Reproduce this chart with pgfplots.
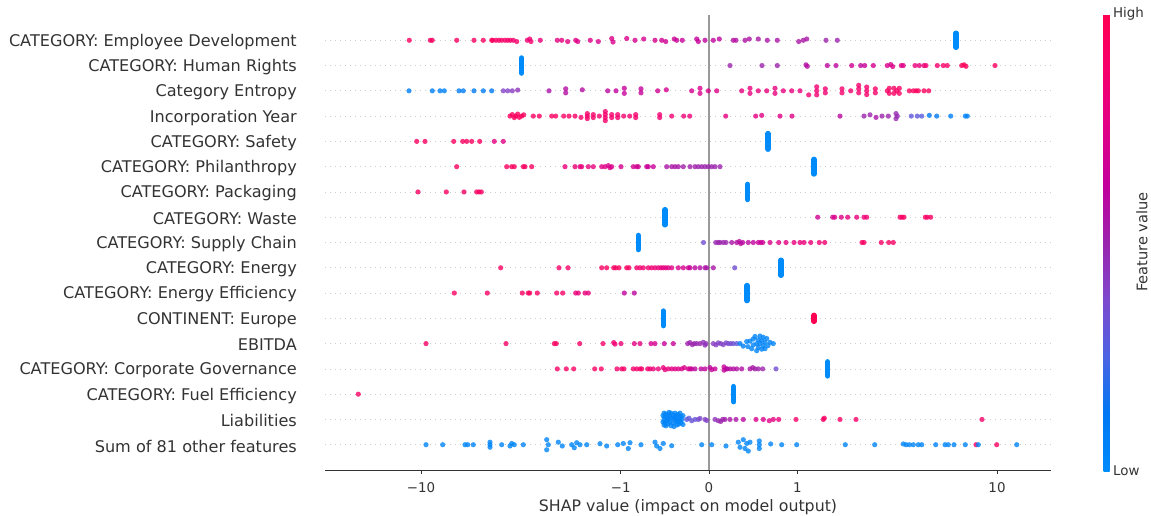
\documentclass[border=0pt]{standalone}
\usepackage{pgfplots}
\pgfplotsset{compat=1.18}
\usepackage{fontspec}
\setmainfont{DejaVu Sans}
\definecolor{txt}{HTML}{333333}
\definecolor{zeroline}{HTML}{999999}
\definecolor{gridc}{HTML}{CCCCCC}
\definecolor{shapblue}{RGB}{0,139,251}
\definecolor{shapred}{RGB}{255,0,82}
\pgfplotsset{
  shapdots/.style={scatter, only marks, mark=*, mark size=2.6pt, point meta=explicit,
    scatter/use mapped color={draw=mapped color, fill=mapped color, draw opacity=0, fill opacity=0.8}},
  capsule/.style={line width=5.4pt, line cap=round, #1, forget plot},
}
\begin{document}
\begin{tikzpicture}
\useasboundingbox (0,0) rectangle (1151pt,515pt);
\begin{axis}[
  at={(325pt,45pt)}, anchor=south west,
  scale only axis, width=726pt, height=455pt,
  xmin=-384, xmax=342, ymin=-1, ymax=17,
  axis line style={draw=none},
  xtick={-288,-88.3,0,88.3,288}, xticklabels={−10,−1,0,1,10},
  xtick pos=left, tick align=outside, major tick length=4pt,
  xtick style={draw=txt, line width=0.8pt},
  ytick={0,...,16},
  yticklabels={Sum of 81 other features, Liabilities, CATEGORY: Fuel Efficiency, CATEGORY: Corporate Governance, EBITDA, CONTINENT: Europe, CATEGORY: Energy Efficiency, CATEGORY: Energy, CATEGORY: Supply Chain, CATEGORY: Waste, CATEGORY: Packaging, CATEGORY: Philanthropy, CATEGORY: Safety, Incorporation Year, Category Entropy, CATEGORY: Human Rights, CATEGORY: Employee Development},
  ytick style={draw=none},
  ymajorgrids, grid style={gridc, dash pattern=on 1pt off 4pt, line width=0.7pt},
  xticklabel style={font=\fontsize{13.4}{15}\selectfont, text=txt, yshift=-5pt},
  yticklabel style={font=\fontsize{16.1}{18}\selectfont, text=txt, anchor=east, inner sep=0pt, xshift=-24pt, yshift=-1.5pt},
  xlabel={SHAP value (impact on model output)},
  xlabel style={font=\fontsize{15.8}{18}\selectfont, text=txt, at={(axis description cs:0.5,0)}, anchor=center, yshift=-37pt},
  colormap={shap}{rgb255=(0,139,251) rgb255=(0,120,243) rgb255=(75,99,227) rgb255=(125,73,205) rgb255=(155,36,173) rgb255=(194,0,156) rgb255=(224,0,134) rgb255=(245,0,109) rgb255=(255,0,82)},
  point meta min=0, point meta max=1,
  colorbar,
  colorbar style={
    at={(parent axis.north east)}, anchor=north west, xshift=44pt, yshift=1pt,
    scale only axis, width=6pt, height=457pt,
    axis line style={draw=none},
    ytick={0,1}, yticklabels={Low,High},
    ytick style={draw=none},
    yticklabel style={font=\fontsize{13.4}{15}\selectfont, text=txt},
  },
  clip=false,
]
\addplot[zeroline, line width=1.3pt, forget plot] coordinates {(0,-1) (0,17)};

% CATEGORY: Employee Development
\addplot[shapdots] table[x=x, y expr=16+\thisrow{dy}, meta=c] {
x dy c
-299.7 0 0.93
-278.7 0 0.93
-276.7 0 0.93
-252.3 0 0.93
-235 0 0.93
-225.7 0 0.93
-217.3 0 0.95
-216.3 0 0.93
-213 0 0.92
-210 0 0.92
-207.3 0 0.9
-204 0 0.9
-201.3 0 0.9
-198.7 0 0.9
-195.7 0 0.88
-192.3 -0.05 0.88
-181.7 0 0.85
-179.3 0.05 0.85
-178 -0.05 0.85
-168.7 0 0.82
-151.7 0 0.78
-147.3 0 0.78
-141.3 -0.05 0.76
-133.3 0 0.75
-131.3 -0.05 0.75
-118.7 0 0.75
-110.7 -0.05 0.72
-97.3 0.07 0.72
-96 -0.07 0.72
-82.3 0.07 0.72
-74 0 0.7
-65.3 0.05 0.7
-54 0 0.7
-47.3 0 0.68
-43.3 -0.05 0.68
-34.7 0.05 0.66
-32.3 0 0.66
-26.7 0 0.65
-12.3 0.05 0.65
-10.7 -0.05 0.65
-4 0 0.62
4.3 0 0.62
10.3 0.05 0.62
24.3 0 0.58
27 0 0.58
36 0 0.56
40.3 0.05 0.56
49.3 0.05 0.55
58.3 0 0.55
68.3 0 0.55
89.7 -0.05 0.55
94.3 0 0.55
97.7 0.05 0.55
117 0 0.5
128.3 0 0.5
};
% CATEGORY: Human Rights
\addplot[shapdots] table[x=x, y expr=15+\thisrow{dy}, meta=c] {
x dy c
21 0 0.5
53 0 0.5
68.3 0 0.5
97 0.03 0.58
98.3 -0.03 0.58
118.3 0 0.6
127 0 0.6
142.7 0 0.68
151.7 0 0.62
155.7 0 0.65
164.3 0 0.7
178.3 0 0.72
181.7 0.04 0.72
183.7 -0.04 0.74
192.3 0 0.75
194.3 0 0.75
206 0 0.8
210.3 0 0.8
215 0 0.82
217 0 0.85
228.3 0 0.88
234.3 0 0.9
238.3 0 0.9
252.7 0 0.95
255 0.03 0.97
257 -0.03 0.97
286 0 0.93
};
% Category Entropy
\addplot[shapdots] table[x=x, y expr=14+\thisrow{dy}, meta=c] {
x dy c
-300 0 0.08
-276.7 0 0.08
-269 0 0.08
-264.7 0 0.08
-250 0 0.1
-245.7 0 0.1
-235 0 0.1
-225.7 0 0.1
-217.3 0 0.12
-205.7 0 0.4
-201.3 0 0.4
-196.7 0 0.42
-191.3 0.03 0.45
-160 0 0.55
-143.3 0.08 0.58
-143.3 -0.08 0.58
-126.7 0.04 0.58
-101.3 0 0.6
-93 0 0.62
-84.7 0.1 0.65
-84.7 -0.1 0.65
-68 0.08 0.65
-68 -0.08 0.65
-51.3 0 0.68
-42.7 0.04 0.7
-17.3 0 0.7
-9 0.1 0.72
-9 -0.1 0.72
-0.7 0 0.72
7.7 0 0.75
32.7 0 0.8
41 0.1 0.8
41 -0.1 0.8
49.3 0 0.8
57.7 0 0.8
66 0.1 0.8
66 -0.1 0.8
74.3 0 0.8
82.7 0 0.8
91 0 0.8
99.7 -0.16 0.85
107.7 0.16 0.85
107.7 0 0.85
107.7 -0.16 0.85
116.3 0.08 0.85
116.3 -0.08 0.85
133 0.08 0.88
133 -0.08 0.88
141.7 0 0.88
149.7 0.22 0.88
149.7 0.08 0.88
149.7 -0.08 0.88
157.7 0.15 0.88
157.7 0 0.88
157.7 -0.15 0.88
166.3 0.08 0.9
166.3 -0.08 0.9
178.3 0 0.92
180.3 0.1 0.92
180.3 -0.1 0.92
185 0.1 0.92
185 -0.1 0.92
187.7 0 0.92
190.3 0.1 0.92
190.3 -0.1 0.92
200.3 0 0.95
204.3 0 0.95
207 0 0.95
209.3 0 0.95
215 0 0.95
219.7 0 0.95
};
% Incorporation Year
\addplot[shapdots] table[x=x, y expr=13+\thisrow{dy}, meta=c] {
x dy c
-199 0 0.95
-196.7 0.06 0.95
-194.7 -0.06 0.95
-193.3 0 0.95
-191.3 0.08 0.95
-189.7 -0.05 0.95
-187.3 0 0.95
-185.3 0.05 0.95
-175.7 0 0.93
-169.7 0 0.93
-157.3 0 0.93
-153.3 0 0.93
-145.3 0 0.92
-140 0 0.92
-134 0 0.9
-128 -0.05 0.9
-121.7 0.1 0.9
-121.7 0 0.9
-121.7 -0.1 0.9
-115.7 0.06 0.9
-115.7 -0.06 0.9
-109.7 0 0.88
-103.7 0.18 0.88
-103.7 0.06 0.88
-103.7 -0.06 0.88
-103.7 -0.18 0.88
-97.3 0.06 0.88
-97.3 -0.06 0.88
-91.3 0.06 0.88
-91.3 -0.06 0.88
-85.3 0 0.88
-79.3 0 0.88
-73.3 0.06 0.88
-73.3 -0.06 0.88
-49.3 0.06 0.85
-49.3 -0.06 0.85
-37.3 0 0.85
-25.3 0 0.83
-19.3 0 0.83
16.7 0 0.78
46.7 0 0.77
52.7 0.03 0.75
71 0 0.75
83 0 0.75
131 0 0.6
155 0 0.5
161 0.05 0.5
167 -0.05 0.55
173 0 0.5
179.3 0 0.5
187 0.1 0.48
187 -0.1 0.48
188.3 0 0.48
202.3 0 0.3
208.3 0 0.3
212.7 0 0.28
220.3 0.03 0.12
227.7 0 0.12
241.7 0 0.08
256.3 0 0.06
258.3 0 0.06
};
% CATEGORY: Safety
\addplot[shapdots] table[x=x, y expr=12+\thisrow{dy}, meta=c] {
x dy c
-292.3 0 0.93
-284 0 0.93
-255.3 0 0.93
-246.3 0 0.93
-242.3 0 0.93
-237.3 0 0.93
-229.3 0 0.93
-214.7 0 0.78
-205.7 0 0.75
};
% CATEGORY: Philanthropy
\addplot[shapdots] table[x=x, y expr=11+\thisrow{dy}, meta=c] {
x dy c
-252.3 0 0.93
-202.3 0 0.93
-197.3 0 0.95
-194.7 0 0.93
-185.7 0 0.93
-184 0 0.93
-177.3 0 0.93
-144 0 0.82
-134 0 0.82
-129 0 0.8
-127.3 0 0.8
-120.7 0 0.8
-115.7 0 0.8
-107.3 0 0.75
-104 0 0.75
-100.7 0.04 0.72
-99 -0.04 0.75
-97.3 0 0.72
-88 0 0.7
-75.7 0 0.68
-72.3 0 0.7
-70.7 0 0.68
-62.3 0 0.65
-60.7 0 0.65
-55.7 0 0.66
-42.3 0 0.55
-37.3 0 0.55
-34 0 0.55
-30.7 0 0.55
-25.7 0 0.52
-19 0 0.52
-14 0 0.52
-10.7 0 0.5
-7.3 0 0.5
-4 0 0.5
-0.7 0 0.5
2.7 0 0.5
6 0 0.5
11 0 0.5
};
% CATEGORY: Packaging
\addplot[shapdots] table[x=x, y expr=10+\thisrow{dy}, meta=c] {
x dy c
-291 0 0.93
-262.7 0 0.93
-245 0 0.93
-232.3 0 0.93
-230 0 0.95
-227.7 0 0.93
};
% CATEGORY: Waste
\addplot[shapdots] table[x=x, y expr=9+\thisrow{dy}, meta=c] {
x dy c
108.7 0 0.68
123.7 0 0.72
125.7 0 0.72
132.3 0 0.75
138.7 0 0.78
147.7 0 0.8
155 0 0.82
157.7 0 0.85
191 0 0.92
193 0 0.92
195 0 0.92
216.3 0 0.92
218.3 0 0.92
221.7 0 0.92
};
% CATEGORY: Supply Chain
\addplot[shapdots] table[x=x, y expr=8+\thisrow{dy}, meta=c] {
x dy c
-5.5 0 0.35
6.7 0 0.48
9.3 0 0.5
11 0 0.5
14.3 0 0.5
17 0 0.5
22.7 0 0.55
27.7 0 0.58
30.3 0.04 0.58
31.7 -0.04 0.6
33.7 0 0.6
39.3 0 0.6
44.3 0 0.62
49.3 0 0.65
51.7 0 0.65
53.7 0 0.68
61 0 0.72
69.7 0 0.75
77 0 0.78
85 0 0.8
91 0 0.8
95 0 0.82
101.7 0 0.82
110.3 0 0.85
115.7 0 0.85
153 0 0.92
155 0 0.92
172.3 0 0.9
179.7 0 0.92
184.3 0 0.92
};
% CATEGORY: Energy
\addplot[shapdots] table[x=x, y expr=7+\thisrow{dy}, meta=c] {
x dy c
-208.3 0 0.92
-150 0 0.9
-141 0 0.9
-107.3 0 0.92
-102.3 0 0.93
-95.3 0 0.93
-93.3 0 0.93
-90 0 0.95
-82.3 0 0.92
-80 0 0.93
-72.3 0 0.88
-69 0 0.88
-65.7 0 0.86
-60.7 0 0.85
-57.3 0 0.85
-54 0 0.83
-50.7 0 0.82
-48 0 0.8
-45.7 0 0.78
-43.3 0 0.78
-40.7 0 0.76
-37.3 0 0.75
-30.7 0 0.72
-25.7 0 0.7
-20.7 0 0.68
-19 0 0.65
-14 0 0.6
-9 0 0.58
-4 0 0.55
-2.3 0 0.55
4.3 0 0.55
25.7 0 0.35
};
% CATEGORY: Energy Efficiency
\addplot[shapdots] table[x=x, y expr=6+\thisrow{dy}, meta=c] {
x dy c
-254.7 0 0.92
-221.7 0 0.92
-186.7 0 0.92
-180.7 0 0.95
-179.3 0 0.92
-171.7 0 0.92
-152.3 0 0.9
-146.3 0 0.9
-133.3 0 0.82
-130.7 0 0.8
-124 0 0.8
-120.7 0 0.8
-84.7 0 0.62
-74.7 0 0.6
};
% EBITDA
\addplot[shapdots] table[x=x, y expr=4+\thisrow{dy}, meta=c] {
x dy c
-283 0 0.92
-203 0 0.92
-154.7 0 0.93
-152.7 0 0.93
-129.3 0 0.92
-106 0 0.88
-95.3 0.04 0.85
-94 -0.02 0.85
-88 0 0.83
-74.7 0 0.78
-69 0 0.78
-58 0 0.7
-54 0 0.7
-44.7 0 0.65
-35.7 0 0.65
-21.3 0 0.52
-19 0.04 0.5
-16.7 -0.04 0.5
-14.7 0 0.5
-12.3 0 0.48
-9 0 0.5
-5.7 0.05 0.45
-4 -0.06 0.45
-3 0 0.45
4.3 0 0.42
7 -0.05 0.42
9.3 0.03 0.4
11.7 0 0.4
14.3 -0.04 0.4
17 0.03 0.38
19.3 0 0.38
21.7 0 0.35
24.3 0 0.35
27.7 0 0.3
31 0 0.1
34.3 -0.1 0.08
37.7 0.08 0.06
39 -0.12 0.05
41 0.1 0.05
42.7 -0.2 0.05
44.3 0.18 0.05
44.3 -0.05 0.05
46 0.28 0.05
47.7 0 0.05
47.7 -0.28 0.05
49.3 0.15 0.05
49.3 -0.15 0.05
51 0.3 0.05
51 0 0.05
52.7 -0.22 0.05
52.7 0.12 0.05
54.3 0.25 0.05
54.3 -0.08 0.05
56 0.05 0.05
56 -0.2 0.05
57.7 0.2 0.05
59 -0.08 0.05
61 0.05 0.05
64.3 0 0.05
};
% CATEGORY: Corporate Governance
\addplot[shapdots] table[x=x, y expr=3+\thisrow{dy}, meta=c] {
x dy c
-151.7 0 0.92
-142.7 0 0.92
-135.3 0 0.92
-114.3 0 0.92
-107.7 0 0.92
-92 0 0.9
-87.3 0 0.9
-85 0 0.9
-75.7 0 0.88
-72.3 0 0.88
-69 0 0.88
-67.3 0 0.9
-61.3 0 0.86
-59 0 0.86
-55.7 0 0.82
-50.7 0 0.82
-45.7 0.05 0.8
-44 -0.03 0.8
-40.7 0 0.8
-37.3 0 0.78
-34 0 0.75
-30.7 0 0.75
-27.3 0 0.72
-24.7 0.05 0.72
-20.7 0 0.7
-19 0 0.72
-17.3 0 0.65
-14 0 0.6
-8 0 0.6
-4 0 0.62
1 0.05 0.6
2.7 -0.03 0.65
6 0 0.65
15 0.08 0.65
15 -0.05 0.65
17 0 0.6
18.3 0 0.6
21 0 0.58
24.3 0 0.58
27.7 0 0.58
32.7 0 0.58
41 0 0.55
43.7 0.05 0.55
46 0 0.52
49.3 0 0.52
53.7 0 0.5
67 0 0.35
};
% CATEGORY: Fuel Efficiency
\addplot[shapdots] table[x=x, y expr=2+\thisrow{dy}, meta=c] {
x dy c
-350.7 0 0.92
};
% Liabilities
\addplot[shapdots] table[x=x, y expr=1+\thisrow{dy}, meta=c] {
x dy c
-46 0.15 0.05
-46 -0.1 0.05
-45 0.25 0.05
-45 0 0.05
-45 -0.22 0.05
-44 0.1 0.05
-44 -0.12 0.05
-43 0.22 0.05
-43 -0.25 0.05
-42 0.05 0.05
-42 -0.05 0.05
-41 0.18 0.05
-41 -0.18 0.05
-40 0.28 0.05
-40 0 0.05
-39 -0.1 0.05
-39 0.12 0.05
-38 0.25 0.05
-38 -0.25 0.05
-37 0.05 0.05
-36 -0.15 0.05
-36 0.18 0.05
-35 0 0.05
-35 -0.28 0.05
-34 0.25 0.05
-34 0.08 0.05
-33 -0.1 0.05
-33 0.15 0.05
-32 -0.22 0.05
-32 0 0.05
-31 0.2 0.05
-31 -0.08 0.05
-30 0.1 0.05
-30 -0.18 0.05
-29 0.25 0.05
-29 0 0.05
-28 -0.12 0.05
-28 0.12 0.05
-27 0 0.05
-26 -0.2 0.05
-26 0.15 0.05
-22.3 0 0.3
-20 0.05 0.3
-17.3 -0.05 0.32
-14 0 0.32
-10.7 0 0.35
-9 0.04 0.38
-4 0 0.4
-2.3 -0.04 0.4
6 0 0.45
9.3 -0.05 0.48
11.7 -0.08 0.5
13.7 0 0.5
16 0 0.52
21 0 0.55
27 0 0.55
34.3 0 0.6
47 0 0.72
54.3 0 0.72
60.3 -0.05 0.75
64.3 0 0.78
69.7 0 0.8
87 0 0.9
114.3 0 0.92
115.3 0.05 0.92
131 0 0.92
147 0 0.9
273 0 0.9
};
% Sum of 81 other features
\addplot[shapdots] table[x=x, y expr=0+\thisrow{dy}, meta=c] {
x dy c
-283 0 0.04
-266.3 0 0.04
-244 0 0.04
-241.3 0 0.04
-235.7 0 0.04
-219 0.1 0.04
-219 0 0.04
-219 -0.1 0.04
-207.3 0 0.04
-199 -0.05 0.04
-197.3 0.05 0.04
-194.7 0 0.04
-185.7 0 0.04
-162.3 0.2 0.04
-162.3 -0.2 0.04
-160.7 0 0.04
-150.7 0.1 0.04
-146.7 -0.05 0.04
-137.3 0 0.04
-134.7 -0.12 0.04
-132.3 0.08 0.04
-129 0 0.04
-122.3 0 0.04
-109 0.04 0.04
-102.3 -0.05 0.04
-91.3 0 0.04
-85.7 0.05 0.04
-80.7 -0.15 0.04
-79 0.08 0.04
-68 0 0.04
-54 0.1 0.04
-52.3 -0.05 0.04
-49 -0.15 0.04
-45.7 0.05 0.04
-37.3 -0.04 0.04
-7.3 0 0.04
2.7 0 0.04
17 -0.05 0.04
29.3 0.1 0.04
31 -0.1 0.04
34.3 0.2 0.04
36 -0.15 0.04
37.7 0.05 0.04
39.3 -0.25 0.04
41 0.1 0.04
50.3 0.15 0.04
50.3 0 0.04
50.3 -0.15 0.04
61.7 0.03 0.04
72.7 0 0.04
87.7 0 0.04
136.3 0 0.04
165.7 0 0.04
194.3 0.03 0.04
197 0 0.04
200.3 0 0.04
204.3 0 0.04
209.3 0 0.04
212.7 0 0.04
226.7 0 0.04
236 0 0.04
239.3 0 0.04
245 0 0.04
256.3 0 0.04
267 0 0.9
269.3 0 0.04
287.7 0 0.92
307.7 0 0.04
};

% stacked columns of binary features
\addplot[capsule=shapblue] coordinates {(247,15.72) (247,16.28)};
\addplot[capsule=shapblue] coordinates {(-187.3,14.7) (-187.3,15.3)};
\addplot[capsule=shapblue] coordinates {(59,11.69) (59,12.31)};
\addplot[capsule=shapblue] coordinates {(105,10.71) (105,11.29)};
\addplot[capsule=shapblue] coordinates {(38.7,9.7) (38.7,10.3)};
\addplot[capsule=shapblue] coordinates {(-44,8.7) (-44,9.3)};
\addplot[capsule=shapblue] coordinates {(-70.7,7.72) (-70.7,8.28)};
\addplot[capsule=shapblue] coordinates {(72,6.7) (72,7.3)};
\addplot[capsule=shapblue] coordinates {(38,5.7) (38,6.3)};
\addplot[capsule=shapblue] coordinates {(-45.7,4.71) (-45.7,5.29)};
\addplot[capsule=shapred] coordinates {(105,4.88) (105,5.12)};
\addplot[capsule=shapblue] coordinates {(118.7,2.72) (118.7,3.28)};
\addplot[capsule=shapblue] coordinates {(24.7,1.7) (24.7,2.3)};

\draw[txt, line width=0.8pt] (rel axis cs:0,0) -- (rel axis cs:1,0);
\end{axis}
\node[rotate=90, font=\fontsize{14.6}{17}\selectfont, text=txt] at (1142pt,273pt) {Feature value};
\end{tikzpicture}
\end{document}
